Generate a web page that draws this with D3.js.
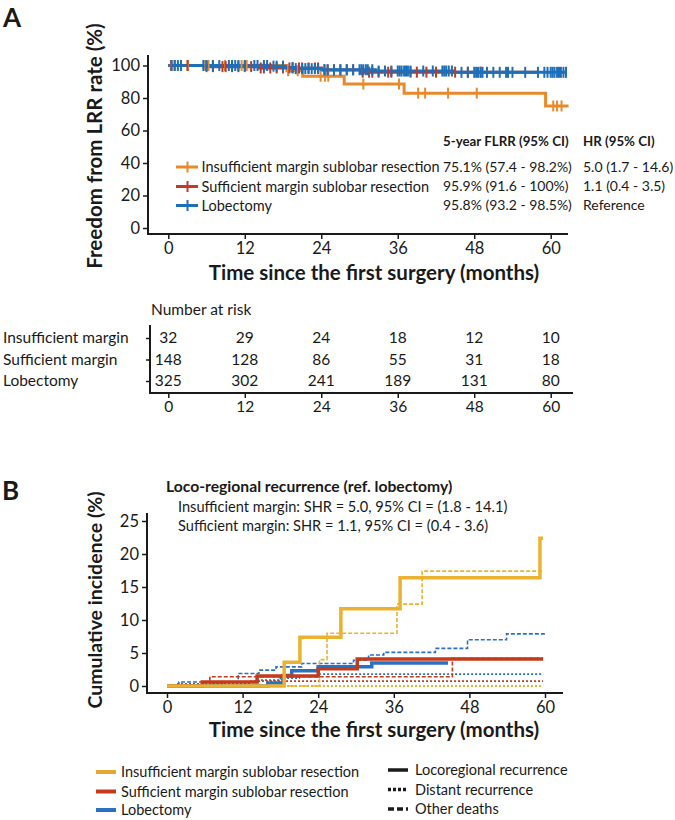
<!DOCTYPE html>
<html lang="en">
<head>
<meta charset="UTF-8">
<title>Freedom from LRR and cumulative incidence</title>
<script src="https://d3js.org/d3.v7.min.js"></script>
<style>
  body { margin: 0; background: #fff; }
  svg { font-family: Lato, "Open Sans", sans-serif; }
</style>
</head>
<body>
<svg width="675" height="820"></svg>
<script>
// ---- data ----
const groups = ["Insufficient margin sublobar resection", "Sufficient margin sublobar resection", "Lobectomy"];
const shortGroups = ["Insufficient margin", "Sufficient margin", "Lobectomy"];
const colorsA = ["#E8892B", "#C0392B", "#1F6FB8"];
const colorsB = ["#EBB22F", "#C43A1C", "#2A71C2"];
const legendColorsB = ["#E8A532", "#C43A1C", "#2A71C2"];

// Panel A: Kaplan-Meier steps [month, % free from LRR]
const kmInsufficient = [[0,100],[18.6,96.8],[21.1,93.4],[27.6,88.6],[37,83.0],[59.2,75.1],[62.8,75.1]];
const kmSufficient = [[0,100],[5.6,99.3],[14.3,98.5],[24,97.3],[30.2,95.9],[58,95.9]];
const kmLobectomy = [[0,100],[16,99.6],[18.4,98.7],[19.8,98.1],[24,97.4],[32.5,96.6],[44.6,95.8],[62.5,95.8]];

// censored times (months)
const censorInsufficient = [0.4,3.1,5.8,6.3,8.9,11.5,12.3,18.8,20.3,23.9,24.6,25.1,30.6,36.2,39.2,40.3,43.9,48.4,60.4,61,61.7];
const censorSufficient = [0.5,1,3,6,7,8.5,9,10,11,12,13,14.5,15,16,17,18,19,19.5,20.5,21,22,23,23.5,24.5,25,26,27,28,29,30.5,31.5,32,33,34.5,35,38,39,40.5,42,45,47,49];
const censorLobectomy = [0.5,1,1.5,2,5.5,6,7,8,9.5,10,10.5,11,12,13.5,14,15,15.5,16.5,17,18,19.5,20,21,21.5,22,22.5,23,23.5,24.5,25,26,27,28,29,30,30.3,30.6,31,31.3,32,33,34,35,36,36.3,36.6,37,37.3,37.6,38,40,41.5,43,43.3,43.6,44,44.5,46,47,48,48.3,48.6,49,49.3,50,51,52,53,53.3,54,56,58,59,59.5,60,60.3,60.6,61,61.3,61.6,62,62.4];

const flrrText = ["75.1% (57.4 - 98.2%)", "95.9% (91.6 - 100%)", "95.8% (93.2 - 98.5%)"];
const hrText = ["5.0 (1.7 - 14.6)", "1.1 (0.4 - 3.5)", "Reference"];

// Number at risk
const riskTimes = [0, 12, 24, 36, 48, 60];
const riskInsufficient = [32, 29, 24, 18, 12, 10];
const riskSufficient = [148, 128, 86, 55, 31, 18];
const riskLobectomy = [325, 302, 241, 189, 131, 80];

// Panel B: cumulative incidence steps [month, %]
const cifInsufficientLRR = [[0,0],[18.6,3.6],[21.1,7.4],[27.6,11.7],[37,16.4],[59.2,22.4],[59.7,22.4]];
const cifInsufficientDistant = [[0,0],[59.7,0]];
const cifInsufficientDeath = [[0,0],[24.2,4.0],[25.4,8.0],[36.5,12.4],[40.5,17.4],[59.7,17.4]];
const cifSufficientLRR = [[0,0],[5.6,0.6],[14.3,1.5],[24,2.6],[30.2,4.1],[59.7,4.1]];
const cifSufficientDistant = [[0,0],[7,0.45],[13,0.75],[59.7,0.75]];
const cifSufficientDeath = [[0,0],[6.8,1.4],[45.3,4.2],[59.7,4.2]];
const cifLobectomyLRR = [[0,0],[16,0.45],[18.4,1.6],[19.8,2.3],[24,2.9],[32.5,3.5],[44.6,3.5]];
const cifLobectomyDistant = [[0,0],[1.5,0.3],[9,0.6],[14,0.9],[18,1.2],[21,1.5],[24.3,1.8],[59.7,1.8]];
const cifLobectomyDeath = [[0,0],[1.3,0.3],[1.9,0.6],[11.3,1.9],[14.6,2.4],[17.3,2.9],[21.4,3.4],[29.6,3.9],[32,4.7],[34.4,5.1],[42.6,5.7],[47.7,7.0],[53.9,7.9],[60,7.9]];

const monthTicks = [0, 12, 24, 36, 48, 60];
const freedomTicks = [0, 20, 40, 60, 80, 100];
const incidenceTicks = [0, 5, 10, 15, 20, 25];
const lineTypes = ["Locoregional recurrence", "Distant recurrence", "Other deaths"];

// ---- setup ----
const svg = d3.select("svg");
const ink = "#1a1a1a";

function stepValue(steps, t) {
    let v = steps[0][1];
    for (const s of steps) { if (s[0] <= t) v = s[1]; }
    return v;
}

function styleAxis(g, size) {
    g.select(".domain").remove();
    g.selectAll(".tick line").attr("stroke", ink).attr("stroke-width", 1.5);
    g.selectAll(".tick text").attr("fill", ink).style("font-size", size + "px").style("font-family", "Lato, sans-serif");
}

// ================= Panel A =================
const xA = d3.scaleLinear().domain([0, 60]).range([168.3, 550.7]);
const yA = d3.scaleLinear().domain([0, 100]).range([228, 65.5]);

svg.append("text").attr("x", 3).attr("y", 27)
    .attr("font-size", 26).attr("font-weight", "bold").attr("fill", ink).text("A");

const gAx = svg.append("g").attr("transform", "translate(0,234)")
    .call(d3.axisBottom(xA).tickValues(monthTicks).tickSize(5).tickPadding(3));
styleAxis(gAx, 16.5);
const gAy = svg.append("g").attr("transform", "translate(148,0)")
    .call(d3.axisLeft(yA).tickValues(freedomTicks).tickSize(5).tickPadding(3));
styleAxis(gAy, 16.5);
svg.append("line").attr("x1", 148).attr("x2", 568).attr("y1", 234).attr("y2", 234)
    .attr("stroke", ink).attr("stroke-width", 2);
svg.append("line").attr("x1", 148).attr("x2", 148).attr("y1", 55).attr("y2", 235)
    .attr("stroke", ink).attr("stroke-width", 2);

svg.append("text").attr("x", 374).attr("y", 280).attr("text-anchor", "middle")
    .attr("font-size", 20.5).attr("font-weight", "bold").attr("fill", ink)
    .text("Time since the first surgery (months)");
svg.append("text").attr("transform", "translate(102,146) rotate(-90)").attr("text-anchor", "middle")
    .attr("font-size", 20.5).attr("font-weight", "bold").attr("fill", ink)
    .text("Freedom from LRR rate (%)");

const lineA = d3.line().x(d => xA(d[0])).y(d => yA(d[1])).curve(d3.curveStepAfter);
const kmSets = [kmInsufficient, kmSufficient, kmLobectomy];
const censorSets = [censorInsufficient, censorSufficient, censorLobectomy];

kmSets.forEach((km, i) => {
    svg.append("path").datum(km).attr("d", lineA)
        .attr("fill", "none").attr("stroke", colorsA[i]).attr("stroke-width", 3);
});
censorSets.forEach((cs, i) => {
    svg.append("g").selectAll("line").data(cs).join("line")
        .attr("x1", d => xA(d)).attr("x2", d => xA(d))
        .attr("y1", d => yA(stepValue(kmSets[i], d)) - 5.5)
        .attr("y2", d => yA(stepValue(kmSets[i], d)) + 5.5)
        .attr("stroke", colorsA[i]).attr("stroke-width", 2);
});

// legend + stats
const legRowsA = [167, 186.5, 205.5];
groups.forEach((name, i) => {
    const y = legRowsA[i];
    svg.append("line").attr("x1", 176).attr("x2", 198).attr("y1", y).attr("y2", y)
        .attr("stroke", colorsA[i]).attr("stroke-width", 3);
    svg.append("line").attr("x1", 187.5).attr("x2", 187.5).attr("y1", y - 5.5).attr("y2", y + 5.5)
        .attr("stroke", colorsA[i]).attr("stroke-width", 2);
    svg.append("text").attr("x", 201.5).attr("y", y).attr("dy", "0.35em")
        .attr("font-size", 14.5).attr("fill", ink).text(name);
    svg.append("text").attr("x", 443).attr("y", y).attr("dy", "0.35em")
        .attr("font-size", 14).attr("fill", ink).text(flrrText[i]);
    svg.append("text").attr("x", 583).attr("y", y).attr("dy", "0.35em")
        .attr("font-size", 14).attr("fill", ink).text(hrText[i]);
});
svg.append("text").attr("x", 443).attr("y", 141.5).attr("dy", "0.35em")
    .attr("font-size", 13.3).attr("font-weight", "bold").attr("fill", ink).text("5-year FLRR (95% CI)");
svg.append("text").attr("x", 583).attr("y", 141.5).attr("dy", "0.35em")
    .attr("font-size", 13.3).attr("font-weight", "bold").attr("fill", ink).text("HR (95% CI)");

// ================= Number at risk =================
const xT = d3.scaleLinear().domain([0, 60]).range([168.3, 550.7]);
const rowsT = [338, 359.5, 381];
const riskSets = [riskInsufficient, riskSufficient, riskLobectomy];

svg.append("text").attr("x", 151).attr("y", 310).attr("dy", "0.35em")
    .attr("font-size", 15.5).attr("fill", ink).text("Number at risk");

const yT = d3.scalePoint().domain(shortGroups).range([rowsT[0], rowsT[2]]);
const gTy = svg.append("g").attr("transform", "translate(150,0)")
    .call(d3.axisLeft(yT).tickSize(4).tickPadding(3));
styleAxis(gTy, 15.5);
gTy.selectAll(".tick text").attr("text-anchor", "start").attr("x", -147);
const gTx = svg.append("g").attr("transform", "translate(0,393)")
    .call(d3.axisBottom(xT).tickValues(riskTimes).tickSize(5).tickPadding(3));
styleAxis(gTx, 15.5);
svg.append("line").attr("x1", 150).attr("x2", 573).attr("y1", 393).attr("y2", 393)
    .attr("stroke", ink).attr("stroke-width", 2);
svg.append("line").attr("x1", 150).attr("x2", 150).attr("y1", 325).attr("y2", 394)
    .attr("stroke", ink).attr("stroke-width", 2);

riskSets.forEach((vals, i) => {
    svg.append("g").selectAll("text").data(vals).join("text")
        .attr("x", (d, j) => xT(riskTimes[j])).attr("y", rowsT[i]).attr("dy", "0.35em")
        .attr("text-anchor", "middle").attr("font-size", 15.5).attr("fill", ink)
        .text(d => d);
});

// ================= Panel B =================
const xB = d3.scaleLinear().domain([0, 60]).range([167, 545]);
const yB = d3.scaleLinear().domain([0, 25]).range([686, 521]);

svg.append("text").attr("x", 2).attr("y", 500)
    .attr("font-size", 26).attr("font-weight", "bold").attr("fill", ink).text("B");

svg.append("text").attr("x", 166).attr("y", 487).attr("dy", "0.35em")
    .attr("font-size", 15.7).attr("font-weight", "bold").attr("fill", ink)
    .text("Loco-regional recurrence (ref. lobectomy)");
svg.append("text").attr("x", 178).attr("y", 507).attr("dy", "0.35em")
    .attr("font-size", 14.6).attr("fill", ink)
    .text("Insufficient margin: SHR = 5.0, 95% CI = (1.8 - 14.1)");
svg.append("text").attr("x", 178).attr("y", 526).attr("dy", "0.35em")
    .attr("font-size", 14.6).attr("fill", ink)
    .text("Sufficient margin: SHR = 1.1, 95% CI = (0.4 - 3.6)");

const gBx = svg.append("g").attr("transform", "translate(0,693)")
    .call(d3.axisBottom(xB).tickValues(monthTicks).tickSize(5).tickPadding(3));
styleAxis(gBx, 16.5);
const gBy = svg.append("g").attr("transform", "translate(147,0)")
    .call(d3.axisLeft(yB).tickValues(incidenceTicks).tickSize(5).tickPadding(3));
styleAxis(gBy, 16.5);
svg.append("line").attr("x1", 147).attr("x2", 563).attr("y1", 693).attr("y2", 693)
    .attr("stroke", ink).attr("stroke-width", 2);
svg.append("line").attr("x1", 147).attr("x2", 147).attr("y1", 513).attr("y2", 694)
    .attr("stroke", ink).attr("stroke-width", 2);

svg.append("text").attr("x", 374).attr("y", 737).attr("text-anchor", "middle")
    .attr("font-size", 20.5).attr("font-weight", "bold").attr("fill", ink)
    .text("Time since the first surgery (months)");
svg.append("text").attr("transform", "translate(102,600) rotate(-90)").attr("text-anchor", "middle")
    .attr("font-size", 19.5).attr("font-weight", "bold").attr("fill", ink)
    .text("Cumulative incidence (%)");

const lineB = d3.line().x(d => xB(d[0])).y(d => yB(d[1])).curve(d3.curveStepAfter);
const dashStyles = [
    { w: 3.5, dash: null },
    { w: 1.8, dash: "2,2" },
    { w: 1.6, dash: "4,2" }
];
const cifSets = [
    [cifInsufficientLRR, cifInsufficientDistant, cifInsufficientDeath],
    [cifSufficientLRR, cifSufficientDistant, cifSufficientDeath],
    [cifLobectomyLRR, cifLobectomyDistant, cifLobectomyDeath]
];
// thin lines first, then thick ones (lobectomy, sufficient, insufficient)
[1, 2].forEach(k => {
    [2, 1, 0].forEach(i => {
        svg.append("path").datum(cifSets[i][k]).attr("d", lineB)
            .attr("fill", "none").attr("stroke", colorsB[i])
            .attr("stroke-width", dashStyles[k].w).attr("stroke-dasharray", dashStyles[k].dash);
    });
});
[2, 1, 0].forEach(i => {
    svg.append("path").datum(cifSets[i][0]).attr("d", lineB)
        .attr("fill", "none").attr("stroke", colorsB[i]).attr("stroke-width", 3.5);
});

// bottom legends
const legRowsB = [772, 791.5, 810];
groups.forEach((name, i) => {
    svg.append("line").attr("x1", 96).attr("x2", 116).attr("y1", legRowsB[i]).attr("y2", legRowsB[i])
        .attr("stroke", legendColorsB[i]).attr("stroke-width", 4);
    svg.append("text").attr("x", 121).attr("y", legRowsB[i]).attr("dy", "0.35em")
        .attr("font-size", 14.5).attr("fill", ink).text(name);
});
const legRowsType = [770, 789.5, 809];
const legendDash = [null, "3,2", "6,3"];
lineTypes.forEach((name, k) => {
    svg.append("line").attr("x1", 388).attr("x2", 408).attr("y1", legRowsType[k]).attr("y2", legRowsType[k])
        .attr("stroke", ink).attr("stroke-width", 3.5).attr("stroke-dasharray", legendDash[k]);
    svg.append("text").attr("x", 415).attr("y", legRowsType[k]).attr("dy", "0.35em")
        .attr("font-size", 14.5).attr("fill", ink).text(name);
});
</script>
</body>
</html>
